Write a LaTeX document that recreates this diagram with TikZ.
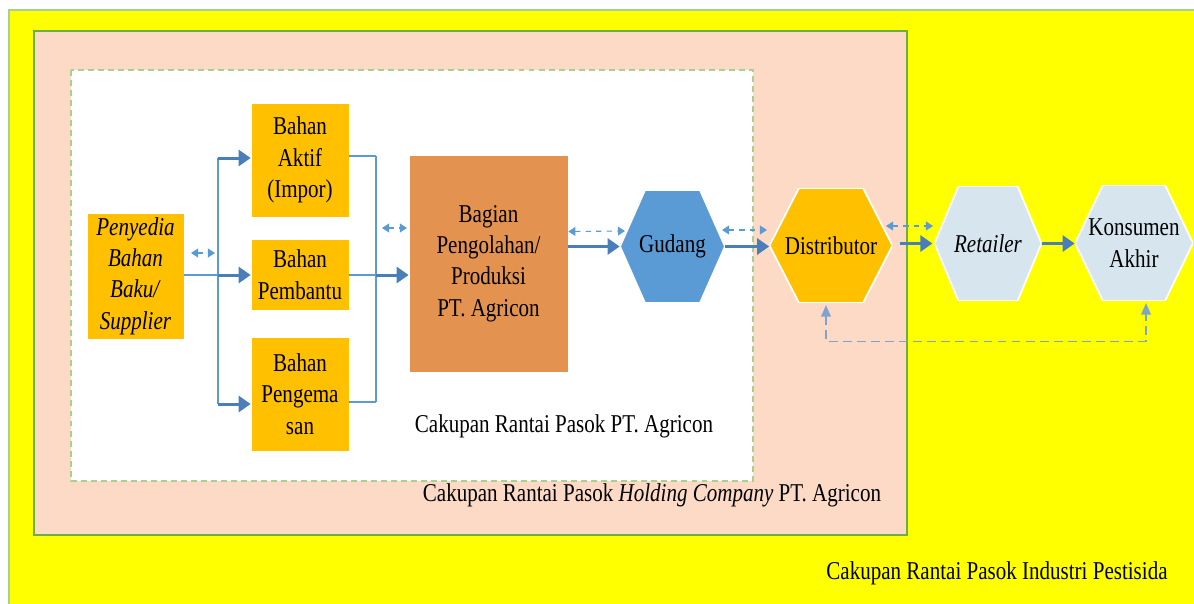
\documentclass[tikz,border=0pt]{standalone}
\usepackage{fontspec}
\setmainfont{Liberation Serif}[FakeStretch=0.82]
\usepackage{tikz}
\usetikzlibrary{arrows.meta}

\definecolor{kuning}{HTML}{FFFF00}
\definecolor{peach}{HTML}{FCDAC6}
\definecolor{hijau}{HTML}{70AD47}
\definecolor{hijaumuda}{HTML}{A9D18E}
\definecolor{oranye}{HTML}{FFC000}
\definecolor{olah}{HTML}{E3924F}
\definecolor{gudangbiru}{HTML}{5B9BD5}
\definecolor{birumuda}{HTML}{D6E5EE}
\definecolor{panah}{HTML}{4A7EBB}
\definecolor{garisbiru}{HTML}{5B9BD5}
\definecolor{balikbiru}{HTML}{7FA3CF}

\tikzstyle{teks} = [font=\fontsize{14.6}{17.9}\selectfont]
\tikzstyle{bahan} = [teks, draw=white, fill=oranye, align=center, inner sep=0pt]
\tikzset{hexa/.style 2 args={teks, align=center, inner sep=0pt,
  path picture={\filldraw[fill=#1, draw=white, line width=1pt]
    (path picture bounding box.west) -- ([xshift=#2]path picture bounding box.north west)
    -- ([xshift=-#2]path picture bounding box.north east) -- (path picture bounding box.east)
    -- ([xshift=-#2]path picture bounding box.south east) -- ([xshift=#2]path picture bounding box.south west) -- cycle;}}}
\tikzstyle{arus} = [line width=1.7pt, -{Triangle[length=6.8pt,width=9pt]}, panah]
\tikzstyle{garis} = [line width=0.6pt, garisbiru]
\tikzstyle{info} = [dashed, line width=0.6pt, garisbiru, {Triangle[length=4pt,width=5pt]}-{Triangle[length=4pt,width=5pt]}]
\tikzstyle{balik} = [dash pattern=on 5pt off 3pt, line width=0.8pt, balikbiru, {Triangle[length=6.5pt,width=5.5pt]}-{Triangle[length=6.5pt,width=5.5pt]}]

\begin{document}
\begin{tikzpicture}[x=0.02cm, y=-0.02cm]

\useasboundingbox (0,0) rectangle (1194,603);

% area cakupan
\draw[fill=kuning, draw=hijaumuda, line width=0.6pt] (9,10) rectangle (1196,605);
\draw[fill=peach, draw=hijau, line width=1.1pt] (34,31) rectangle (907,535);
\draw[fill=white, draw=hijaumuda, line width=0.6pt, dash pattern=on 3.4pt off 2.3pt] (71,70) rectangle (753,481);

\node[teks] (lingkup1) at (564,426) {Cakupan Rantai Pasok PT. Agricon};
\node[teks] (lingkup2) at (652,495) {Cakupan Rantai Pasok \textit{Holding Company} PT. Agricon};
\node[teks] (lingkup3) at (997,573) {Cakupan Rantai Pasok Industri Pestisida};

% node
\node[bahan, minimum width=1.94cm, minimum height=2.52cm] (supplier) at (135.5,276) {\textit{Penyedia}\\\textit{Bahan}\\\textit{Baku/}\\\textit{Supplier}};
\node[bahan, minimum width=1.96cm, minimum height=2.28cm] (aktif) at (300,160) {Bahan\\Aktif\\(Impor)};
\node[bahan, minimum width=1.96cm, minimum height=1.42cm] (pembantu) at (300,274.5) {Bahan\\Pembantu};
\node[bahan, minimum width=1.96cm, minimum height=2.28cm] (kemas) at (300,394) {Bahan\\Pengema\\san};
\node[bahan, fill=olah, minimum width=3.18cm, minimum height=4.34cm] (produksi) at (488.5,263.5) {Bagian\\Pengolahan/\\Produksi\\PT. Agricon};
\node[hexa={gudangbiru}{0.5cm}, minimum width=2.1cm, minimum height=2.26cm] (gudang) at (672.5,246.5) {Gudang};
\node[hexa={oranye}{0.59cm}, minimum width=2.46cm, minimum height=2.3cm] (distributor) at (831,245.5) {Distributor};
\node[hexa={birumuda}{0.48cm}, minimum width=2.14cm, minimum height=2.3cm] (retailer) at (988,243.5) {\textit{Retailer}};
\node[hexa={birumuda}{0.56cm}, minimum width=2.36cm, minimum height=2.32cm] (konsumen) at (1134,243) {Konsumen\\Akhir};

% percabangan bahan
\coordinate (j1) at (218,158);
\coordinate (j2) at (218,275);
\coordinate (j3) at (218,404);
\coordinate (k1) at (376,156);
\coordinate (k2) at (376,275);
\coordinate (k3) at (376,402);

\draw[garis] (supplier.east |- j2) -- (j2);
\draw[garis] (j1) -- (j3);
\foreach \j/\n in {j1/aktif, j2/pembantu, j3/kemas}
{
\draw[arus] (\j) -- (\j -| \n.west);
}

\foreach \k/\n in {k1/aktif, k2/pembantu, k3/kemas}
{
\draw[garis] (\k -| \n.east) -- (\k);
}
\draw[garis] (k1) -- (k3);
\draw[arus] (k2) -- (k2 -| produksi.west);

% aliran barang
\draw[arus] (produksi.east |- gudang.west) -- (gudang.west);
\draw[arus] (gudang.east) -- (gudang.east -| distributor.west);
\draw[arus, shorten <=4pt, shorten >=1pt] (distributor.east |- retailer.west) -- (retailer.west);
\draw[arus] (retailer.east) -- (retailer.east -| konsumen.west);

% aliran informasi
\draw[info] (191,253) -- (215,253);
\draw[info] (382,228) -- (407,228);
\draw[info] ([yshift=0.3cm]produksi.east |- gudang.west) -- (625,231);
\draw[info] (722,230) -- (767,230);
\draw[info] (886,226) -- (933,226);
\draw[balik, shorten <=1pt, shorten >=1pt] ([xshift=-0.1cm]distributor.south) -- ++(0,38) -| ([xshift=0.24cm]konsumen.south);

\end{tikzpicture}
\end{document}
